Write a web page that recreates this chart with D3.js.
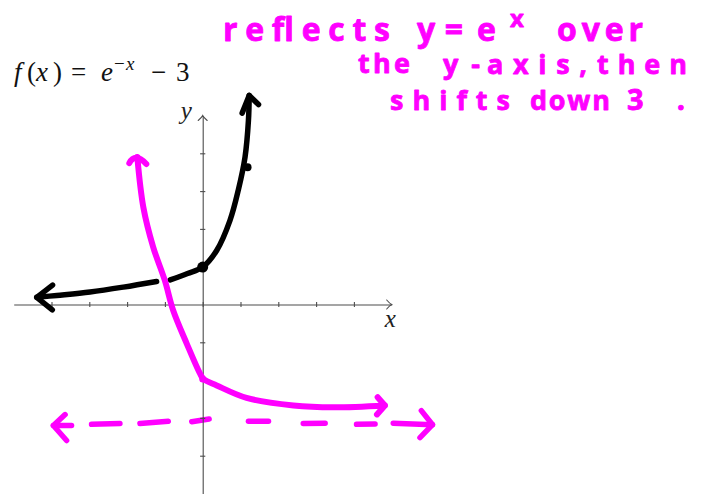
<!DOCTYPE html>
<html>
<head>
<meta charset="utf-8">
<script src="https://cdn.jsdelivr.net/npm/d3@7/dist/d3.min.js"></script>
<style>
  html, body { margin: 0; padding: 0; background: #fff; }
  svg { display: block; }
</style>
</head>
<body>
<svg id="chart" width="704" height="494"></svg>
<script>
// Axis ticks (unlabelled unit marks)
const xTicks = [-4, -3, -2, -1, 0, 1, 2, 3, 4];
const yTicks = [-4, -3, -2, -1, 1, 2, 3, 4];

// Sketch of y = e^x (black), split where the pink curve crosses it
const blackLeftX = [-4.39, -3.86, -2.98, -2.1, -1.22];
const blackLeftY = [0.19, 0.24, 0.33, 0.46, 0.61];
const blackRightX = [-0.86, -0.4, 0, 0.37, 0.72, 0.94, 1.12, 1.21, 1.23];
const blackRightY = [0.65, 0.82, 0.99, 1.43, 2.22, 3.02, 3.9, 4.87, 5.53];
// Marked points on y = e^x: (0, 1) and (1, e)
const blackDotX = [0, 1.16];
const blackDotY = [0.99, 3.63];

// Sketch of f(x) = e^(-x) - 3 (pink)
const pinkX = [-1.73, -1.57, -1.31, -1.0, -0.78, -0.42, -0.07, 0.02, 0.37, 1.16, 2.4, 3.46, 4.82];
const pinkY = [3.9, 2.57, 1.52, 0.63, -0.16, -1.04, -1.83, -1.97, -2.14, -2.47, -2.67, -2.72, -2.67];

// Horizontal asymptote y = -3, drawn as hand dashes (start x, end x, start y, end y)
const dashX0 = [-3.95, -2.94, -1.66, -0.29, 1.21, 2.66, 4.07, 5.04];
const dashX1 = [-3.47, -2.19, -0.91, 0.17, 1.74, 3.24, 4.56, 6.08];
const dashY0 = [-3.2, -3.17, -3.15, -3.1, -3.09, -3.15, -3.17, -3.14];
const dashY1 = [-3.2, -3.15, -3.09, -3.03, -3.09, -3.14, -3.16, -3.18];

// Title glyphs of f(x) = e^(-x) - 3
const titleGlyphs = ["f", "(", "x", ")", "=", "e", "\u2212", "x", "\u2212", "3"];

// Handwritten note
const noteLines = [
  ["reflects", "y=", "e", "x", "over"],
  ["the", "y-", "axis,", "then"],
  ["shifts", "down", "3."]
];

const PINK = "#ff00ff";
const svg = d3.select("#chart");

const x = d3.scaleLinear().domain([-5, 5]).range([13.7, 391.7]);
const y = d3.scaleLinear().domain([-5, 5]).range([493.5, 115.5]);

// ---------- asymptote dashes (under the axes) ----------
const gDash = svg.append("g")
  .attr("stroke", PINK).attr("stroke-width", 5.5)
  .attr("stroke-linecap", "round").attr("stroke-linejoin", "round").attr("fill", "none");
gDash.selectAll("line").data(dashX0).join("line")
  .attr("x1", (d, i) => x(dashX0[i])).attr("y1", (d, i) => y(dashY0[i]))
  .attr("x2", (d, i) => x(dashX1[i])).attr("y2", (d, i) => y(dashY1[i]));

function arrowHead(g, tip, ang, len1, len2, spread1, spread2) {
  // ang: direction the arrow points (radians, screen space)
  const a1 = ang + Math.PI - spread1, a2 = ang + Math.PI + spread2;
  const p1 = [tip[0] + len1 * Math.cos(a1), tip[1] + len1 * Math.sin(a1)];
  const p2 = [tip[0] + len2 * Math.cos(a2), tip[1] + len2 * Math.sin(a2)];
  return g.append("path").attr("d", `M${p1}L${tip}L${p2}`);
}

arrowHead(gDash, [x(dashX0[0]), y(dashY0[0])], Math.PI, 16, 20, 0.75, 0.85);
arrowHead(gDash, [x(dashX1[7]), y(dashY1[7])], 0, 18, 18, 0.8, 0.9);

// ---------- axes ----------
const axisColor = "#4d4d4d";
const gx = svg.append("g").attr("transform", `translate(0,${y(0)})`)
  .call(d3.axisBottom(x).tickValues(xTicks).tickSizeInner(3).tickSizeOuter(0).tickFormat(""));
const gy = svg.append("g").attr("transform", `translate(${x(0)},0)`)
  .call(d3.axisLeft(y).tickValues(yTicks).tickSizeInner(3).tickSizeOuter(0).tickFormat(""));
[gx, gy].forEach(g => {
  g.select(".domain").attr("stroke", axisColor).attr("stroke-width", 1.1);
  g.selectAll(".tick line").attr("stroke", axisColor).attr("stroke-width", 1.1);
});
gx.selectAll(".tick line").attr("y1", -2.6).attr("y2", 2.6);
gy.selectAll(".tick line").attr("x1", -2.6).attr("x2", 2.6);

// axis arrow tips
const gAx = svg.append("g").attr("stroke", axisColor).attr("stroke-width", 1.1)
  .attr("fill", "none").attr("stroke-linecap", "round");
gAx.append("path").attr("d",
  `M${x(5) - 5},${y(0) - 4.5}Q${x(5) - 2},${y(0) - 1} ${x(5)},${y(0)}Q${x(5) - 2},${y(0) + 1} ${x(5) - 5},${y(0) + 4.5}`);
gAx.append("path").attr("d",
  `M${x(0) - 4.5},${y(5) + 5}Q${x(0) - 1},${y(5) + 2} ${x(0)},${y(5)}Q${x(0) + 1},${y(5) + 2} ${x(0) + 4.5},${y(5) + 5}`);

const mathFont = "'Liberation Serif', 'DejaVu Serif', serif";
svg.append("text").attr("x", x(5) - 7).attr("y", y(0) + 22)
  .attr("font-family", mathFont).attr("font-style", "italic").attr("font-size", 25)
  .attr("fill", "#222").text("x");
svg.append("text").attr("x", x(0) - 22).attr("y", y(5) + 3)
  .attr("font-family", mathFont).attr("font-style", "italic").attr("font-size", 25)
  .attr("fill", "#222").text("y");

// ---------- curves ----------
const line = d3.line().x(d => x(d[0])).y(d => y(d[1])).curve(d3.curveCatmullRom.alpha(0.5));

const gBlack = svg.append("g").attr("stroke", "#000").attr("stroke-width", 5.5)
  .attr("fill", "none").attr("stroke-linecap", "round").attr("stroke-linejoin", "round");
gBlack.append("path").attr("d", line(blackLeftX.map((v, i) => [v, blackLeftY[i]])));
gBlack.append("path").attr("d", line(blackRightX.map((v, i) => [v, blackRightY[i]])));
arrowHead(gBlack, [x(blackLeftX[0]), y(blackLeftY[0])], Math.PI + 0.06, 20, 20, 0.72, 0.62);
arrowHead(gBlack, [x(blackRightX[8]), y(blackRightY[8])], -Math.PI / 2, 13, 19, 0.8, 0.38);
svg.append("g").selectAll("circle").data(blackDotX).join("circle")
  .attr("cx", (d, i) => x(blackDotX[i]) + (i ? 1 : 0)).attr("cy", (d, i) => y(blackDotY[i]))
  .attr("r", (d, i) => i ? 4 : 5.5).attr("fill", "#000");

const gPink = svg.append("g").attr("stroke", PINK).attr("stroke-width", 6)
  .attr("fill", "none").attr("stroke-linecap", "round").attr("stroke-linejoin", "round");
gPink.append("path").attr("d", line(pinkX.map((v, i) => [v, pinkY[i]])));
// rounded cap at the top end
const pt = [x(pinkX[0]), y(pinkY[0])];
gPink.append("path").attr("d",
  `M${pt[0] - 8},${pt[1] + 6}Q${pt[0] - 2},${pt[1] - 5} ${pt[0] + 9},${pt[1] + 7}`);
arrowHead(gPink, [x(pinkX[12]), y(pinkY[12])], 0.1, 12, 11, 0.95, 0.75);
svg.append("circle").attr("cx", x(0)).attr("cy", y(-1.97)).attr("r", 3.5).attr("fill", PINK);

// ---------- title ----------
// [x, dy-from-baseline, size, italic]
const titlePos = [[14, 0, 27, 1], [27, 0, 27, 0], [36, 0, 27, 1], [53, 0, 27, 0], [71, 0, 27, 0],
                  [101, 0, 27, 1], [114, -11, 19, 0], [126, -11, 19, 1], [151, 0, 27, 0], [176, 0, 27, 0]];
const gTitle = svg.append("g").attr("font-family", mathFont).attr("fill", "#111");
titleGlyphs.forEach((g, i) => {
  const [tx, dy, fs, it] = titlePos[i];
  gTitle.append("text").attr("x", tx).attr("y", 81 + dy).attr("font-size", fs)
    .attr("font-style", it ? "italic" : "normal").text(g);
});

// ---------- handwritten note ----------
const hand = "'Open Sans', 'Noto Sans', sans-serif";
const noteLayout = [
  [[223, 41, 167, 32], [417, 41, 46, 32], [477, 41, 26, 32], [510, 27, 17, 24], [557, 41, 86, 32]],
  [[358, 73, 52, 27], [443, 74, 37, 27], [487, 74, 100, 27], [597, 74, 90, 27]],
  [[390, 110, 120, 27], [530, 110, 80, 27], [627, 110, 58, 29]]
];
const gNote = svg.append("g").attr("fill", PINK).attr("stroke", PINK)
  .attr("stroke-width", 0.8).attr("stroke-linejoin", "round")
  .attr("font-family", hand).attr("font-weight", 700);
noteLines.forEach((words, li) => {
  words.forEach((w, wi) => {
    const [lx, ly, len, fs] = noteLayout[li][wi];
    gNote.append("text").attr("x", lx).attr("y", ly).attr("font-size", fs)
      .attr("textLength", len).attr("lengthAdjust", "spacing").text(w);
  });
});
</script>
</body>
</html>
